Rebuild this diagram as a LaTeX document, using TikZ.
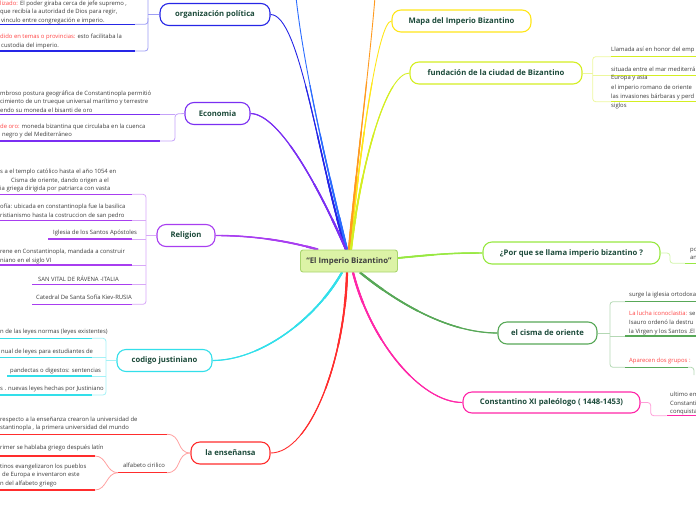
\documentclass[tikz,border=0pt]{standalone}
\usepackage{fontspec}
\setmainfont{Open Sans}
\usetikzlibrary{backgrounds,calc}
\definecolor{topictxt}{HTML}{1C4A3A}
\definecolor{txtgray}{HTML}{3C3C3C}
\definecolor{redtxt}{HTML}{FF4444}
\definecolor{cOrg}{HTML}{2626E6}
\definecolor{cBlue}{HTML}{2B6CFF}
\definecolor{cEco}{HTML}{7B2FF2}
\definecolor{cRel}{HTML}{A83EF0}
\definecolor{cCod}{HTML}{33DFEA}
\definecolor{cEns}{HTML}{FF2D2D}
\definecolor{cMap}{HTML}{FFE61A}
\definecolor{cOra}{HTML}{FF9A1F}
\definecolor{cFun}{HTML}{D4EE22}
\definecolor{cPor}{HTML}{98E842}
\definecolor{cCis}{HTML}{58A858}
\definecolor{cCon}{HTML}{FF27A8}
\definecolor{cfill}{HTML}{DCF3A6}
\definecolor{cdraw}{HTML}{A9D56E}
\newcommand{\mybranch}[2]{%
  \draw[line width=0.9pt,#1] #2;
  \begin{scope}\clip (349,261) circle (180pt); \draw[line width=1.15pt,#1] #2; \end{scope}
  \begin{scope}\clip (349,261) circle (130pt); \draw[line width=1.45pt,#1] #2; \end{scope}
  \begin{scope}\clip (349,261) circle (85pt); \draw[line width=1.8pt,#1] #2; \end{scope}
  \begin{scope}\clip (349,261) circle (45pt); \draw[line width=2.2pt,#1] #2; \end{scope}}
\begin{document}
\begin{tikzpicture}[x=1pt,y=-1pt,
  topic/.style={draw, line width=1.1pt, rounded corners=9pt, fill=white, font=\bfseries\fontsize{7.7}{8}\selectfont, text=topictxt, inner sep=0pt, minimum height=22pt},
  centre/.style={draw=cdraw, fill=cfill, line width=0.9pt, rounded corners=2.5pt, minimum width=97pt, minimum height=22pt, inner sep=0pt, font=\bfseries\fontsize{7.8}{8}\selectfont, text=black!75},
  det/.style={font=\fontsize{5.9}{8.6}\selectfont, inner sep=0pt, align=left, text=txtgray, anchor=north west},
  dets/.style={font=\fontsize{5.9}{8.6}\selectfont, inner sep=0pt, text=txtgray, anchor=west},
  ul/.style={line width=1.5pt},
  lt/.style={line width=0.8pt, rounded corners=3pt},
]
\useasboundingbox (0,0) rectangle (696,520);
\clip (0,0) rectangle (696,520);

% central and topic nodes
\node[centre] (C) at (349,261) {“El Imperio Bizantino”};
\node[topic, draw=cOrg, minimum width=110pt] (org) at (215,14.5) {organización política};
\node[topic, draw=cEco, minimum width=65pt] (eco) at (217.5,113.5) {Economia};
\node[topic, draw=cRel, minimum width=58pt] (rel) at (186,235.5) {Religion};
\node[topic, draw=cCod, minimum width=95pt] (cod) at (164.5,360.5) {codigo justiniano};
\node[topic, draw=cEns, minimum width=79pt] (ens) at (230.5,453) {la enseñansa};
\node[topic, draw=cMap, minimum width=139pt] (map) at (461.5,21) {Mapa del  Imperio Bizantino};
\node[topic, draw=cFun, minimum width=172pt] (fun) at (496,73) {fundación de la ciudad  de Bizantino};
\node[topic, draw=cPor, minimum width=177pt] (por) at (571.5,253) {¿Por que se llama imperio bizantino ?};
\node[topic, draw=cCis, minimum width=99pt] (cis) at (547.5,333) {el cisma de oriente};
\node[topic, draw=cCon, minimum width=177pt, minimum height=21pt] (con) at (551.5,402.5) {Constantino XI paleólogo ( 1448-1453)};
\coordinate (topBlue) at (296,-3);
\coordinate (topOra) at (375,-3);

\begin{pgfonlayer}{background}
% main branches (tapered towards the topics)
\mybranch{cOrg}{(org.east) .. controls (300,14.5) and (318,160) .. ([xshift=-3pt]C.north)}
\mybranch{cBlue}{(topBlue) .. controls (305,80) and (335,200) .. ([xshift=-2pt]C.north)}
\mybranch{cEco}{(eco.east) .. controls (280,114) and (320,190) .. ([xshift=-3pt]C.north)}
\mybranch{cRel}{(rel.east) .. controls (260,235.5) and (295,243) .. ([xshift=-31pt]C.north)}
\mybranch{cMap}{(map.west) .. controls (378,21) and (360,150) .. ([xshift=1pt]C.north)}
\mybranch{cOra}{(topOra) .. controls (370,60) and (355,180) .. (C.north)}
\mybranch{cFun}{(fun.west) .. controls (385,73) and (360,170) .. ([xshift=2pt]C.north)}
\mybranch{cPor}{([yshift=3pt]C.east) .. controls (440,254) and (450,253) .. (por.west)}
\mybranch{cCis}{([xshift=11pt]C.south) .. controls (400,305) and (450,333) .. (cis.west)}
\mybranch{cCon}{([xshift=4pt]C.south) .. controls (370,340) and (420,402.5) .. (con.west)}
\mybranch{cEns}{([xshift=-2pt]C.south) .. controls (345,360) and (310,453) .. (ens.east)}
\mybranch{cCod}{([xshift=-7pt]C.south) .. controls (315,320) and (260,360.5) .. (cod.east)}
\end{pgfonlayer}

% organizacion politica
\draw[lt,cOrg!45] (org.west) -- (148,14.5);
\draw[lt,cOrg!45] (148,-5) -- (148,51) -- (135,51);
\draw[lt,cOrg!45] (135,24.3) -- (148,24.3) -- (148,18);
\draw[ul,cOrg] (0,24.3) -- (135,24.3);
\draw[ul,cOrg] (0,51) -- (135,51);
\node[det] (o1) at (0,0.3) {{\color{redtxt}lizado:} El poder giraba cerca de jefe supremo ,\\ que recibía la autoridad de Dios para  regir,\\ \hspace*{1pt}vinculo entre congregación e imperio.};
\node[det] (o2) at (0,33.7) {{\color{redtxt}dido en temas o provincias:} esto facilitaba la\\ \hspace*{1pt}custodia del imperio.};

% economia
\draw[lt,cEco!45] (eco.west) -- (175,114) -- (175,141) -- (160,141);
\draw[lt,cEco!45] (160,114.3) -- (175,114.3);
\draw[ul,cEco] (0,114.3) -- (160,114.3);
\draw[ul,cEco] (0,141) -- (160,141);
\node[det] (e1) at (0,90.3) {mbroso postura geográfica de Constantinopla permitió\\ cimiento de un trueque universal marítimo y terrestre\\ endo su moneda el bisanti de oro};
\node[det] (e2) at (0,123.7) {{\color{redtxt}de oro:} moneda bizantina que circulaba en la cuenca\\ \hspace*{2pt}negro y del Mediterráneo};

% religion
\draw[lt,cRel!45] (rel.west) -- (146,235.5);
\draw[lt,cRel!45] (132,194.3) -- (146,194.3) -- (146,304.3) -- (132,304.3);
\draw[lt,cRel!45] (132,220.7) -- (146,220.7);
\draw[lt,cRel!45] (132,239) -- (146,239);
\draw[lt,cRel!45] (132,265) -- (146,265);
\draw[lt,cRel!45] (132,284.3) -- (146,284.3);
\draw[ul,cRel] (0,194.3) -- (132,194.3);
\draw[ul,cRel] (0,220.7) -- (132,220.7);
\draw[ul,cRel] (48,239) -- (132,239);
\draw[ul,cRel] (0,265) -- (132,265);
\draw[ul,cRel] (32,284.3) -- (132,284.3);
\draw[ul,cRel] (32,304.3) -- (132,304.3);
\node[det] (r1) at (0,168.7) {s a el templo católico hasta el año 1054 en\\ \hspace*{11pt}Cisma de oriente, dando origen a el\\ ia griega dirigida por patriarca con vasta};
\node[det] (r2) at (0,204.2) {ofía: ubicada en constantinopla fue la basilica\\ ristianismo hasta la costruccion de san pedro};
\node[dets] (r3) at (53,233.3) {Iglesia de los Santos Apóstoles};
\node[det] (r4) at (0,249.2) {rene en Constantinopla, mandada a construir\\ niano en el siglo VI};
\node[dets] (r5) at (38,278.3) {SAN VITAL DE RÁVENA -ITALIA};
\node[dets] (r6) at (36,297.3) {Catedral De Santa Sofía Kiev-RUSIA};

% codigo justiniano
\draw[lt,cCod!45] (cod.west) -- (106,360.5);
\draw[lt,cCod!45] (92,338.3) -- (106,338.3) -- (106,395) -- (92,395);
\draw[lt,cCod!45] (92,357.3) -- (106,357.3);
\draw[lt,cCod!45] (92,376) -- (106,376);
\draw[ul,cCod] (0,338.3) -- (92,338.3);
\draw[ul,cCod] (0,357.3) -- (92,357.3);
\draw[ul,cCod] (7,376) -- (92,376);
\draw[ul,cCod] (0,395) -- (92,395);
\node[dets] (k1) at (0,332.3) {n de las leyes normas (leyes existentes)};
\node[dets] (k2) at (1,351.7) {nual de leyes para estudiantes de};
\node[dets] (k3) at (10,370.7) {pandectas o digestos: sentencias};
\node[dets] (k4) at (0,389.3) {s . nuevas leyes hechas por Justiniano};

% la ensenansa
\draw[ul,cEns] (0,434.3) -- (167,434.3);
\draw[lt,cEns!45] (167,434.3) .. controls (182,434.3) and (176,453) .. (ens.west);
\draw[lt,cEns!45] (ens.west) .. controls (176,453) and (182,472.7) .. (167,472.7);
\draw[ul,cEns] (118,472.7) -- (167,472.7);
\node[dets] (a0) at (123,465.7) {alfabeto cirilico};
\draw[lt,cEns!45] (118,472.7) .. controls (106,472.7) and (107,456) .. (95,456);
\draw[lt,cEns!45] (118,472.7) .. controls (106,472.7) and (107,490) .. (95,490);
\draw[ul,cEns] (0,456) -- (95,456);
\draw[ul,cEns] (0,490) -- (95,490);
\node[det] (n1) at (0,416.7) {respecto a la enseñanza crearon la universidad de\\ stantinopla , la primera universidad del mundo};
\node[dets] (n2) at (0,448.3) {rimer se hablaba griego después latín};
\node[det] (n3) at (0,463.4) {tinos evangelizaron los  pueblos\\ \hspace*{2pt}de Europa e inventaron este\\ n  del alfabeto griego};

% fundacion
\draw[lt,cFun!45] (fun.east) -- (592.7,73);
\draw[lt,cFun!45] (611,56.7) -- (592.7,56.7) -- (592.7,101.7) -- (611,101.7);
\draw[lt,cFun!45] (592.7,75.7) -- (611,75.7);
\draw[ul,cFun] (611,56.7) -- (700,56.7);
\draw[ul,cFun] (611,75.7) -- (700,75.7);
\draw[ul,cFun] (611,101.7) -- (700,101.7);
\node[dets] (f1) at (611,50) {Llamada así en honor del emp};
\node[det] (f2) at (611,66.7) {situada entre el mar mediterrá\\[-0.6pt] Europa y asia};
\node[det] (f3) at (611,85) {el imperio romano  de oriente\\ las invasiones  bárbaras y perd\\[1pt] siglos};

% por que
\draw[lt,cPor!45] (por.east) -- (670,253) -- (670,263.3) -- (685,263.3);
\draw[ul,cPor] (685,263.3) -- (700,263.3);
\node[dets] (p1) at (690,250.7) {po};
\node[dets] (p2) at (690,258.3) {an};

% cisma
\draw[lt,cCis!45] (cis.east) -- (610,333);
\draw[lt,cCis!45] (625,301.7) -- (610,301.7) -- (610,367.3) -- (625,367.3);
\draw[lt,cCis!45] (610,336) -- (625,336);
\draw[ul,cCis] (625,301.7) -- (700,301.7);
\draw[ul,cCis] (625,336) -- (700,336);
\draw[ul,cCis] (625,367.3) -- (688,367.3);
\draw[lt,cCis!45] (688,367.3) -- (694,367.3) -- (694,375);
\node[dets] (s1) at (629,295) {surge la iglesia ortodoxa};
\node[det] (s2) at (629,311.2) {{\color{redtxt}La lucha iconoclastia:} se\\ Isauro ordenó la  destru\\ la Virgen y los Santos .El};
\node[dets] (s3) at (629,360.7) {\color{redtxt}Aparecen dos grupos :};

% constantino
\draw[lt,cCon!45] (con.east) -- (650.7,402.5) -- (650.7,415.7) -- (666.7,415.7);
\draw[ul,cCon] (666.7,415.7) -- (700,415.7);
\node[det] (t1) at (670,391.9) {ultimo em\\ Constanti\\ conquista};
\end{tikzpicture}
\end{document}
